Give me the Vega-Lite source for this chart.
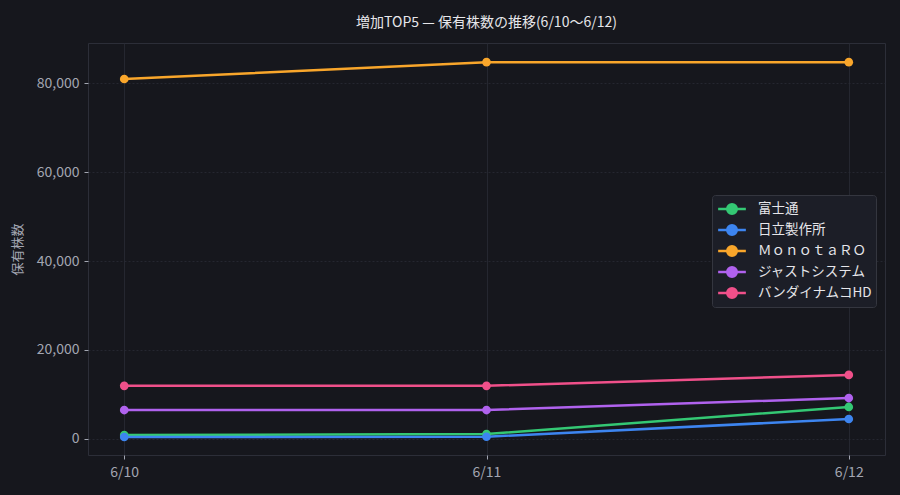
{
  "$schema": "https://vega.github.io/schema/vega-lite/v6.json",
  "autosize": {"type": "none"},
  "padding": {"left": 88, "top": 43, "right": 15, "bottom": 40},
  "width": 797,
  "height": 412,
  "background": "#16171d",
  "title": {
    "text": "増加TOP5 — 保有株数の推移(6/10〜6/12)",
    "font": "Noto Sans CJK JP",
    "fontSize": 14,
    "fontWeight": "normal",
    "color": "#e6e6ea",
    "anchor": "middle",
    "offset": 13
  },
  "config": {
    "font": "Noto Sans CJK JP",
    "view": {"stroke": "#2c2e38", "fill": "#16171d"},
    "axis": {
      "labelColor": "#a3a6b2",
      "labelFontSize": 14,
      "titleColor": "#a3a6b2",
      "titleFontSize": 13,
      "titleFontWeight": "normal",
      "domain": false,
      "tickColor": "#a3a6b2",
      "tickSize": 4,
      "labelPadding": 5,
      "gridColor": "#2a2c35",
      "gridWidth": 0.8
    }
  },
  "data": {
    "values": [
      {"date": "6/10", "name": "富士通", "shares": 900},
      {"date": "6/11", "name": "富士通", "shares": 1100},
      {"date": "6/12", "name": "富士通", "shares": 7200},
      {"date": "6/10", "name": "日立製作所", "shares": 450},
      {"date": "6/11", "name": "日立製作所", "shares": 500},
      {"date": "6/12", "name": "日立製作所", "shares": 4500},
      {"date": "6/10", "name": "ＭｏｎｏｔａＲＯ", "shares": 80900},
      {"date": "6/11", "name": "ＭｏｎｏｔａＲＯ", "shares": 84700},
      {"date": "6/12", "name": "ＭｏｎｏｔａＲＯ", "shares": 84700},
      {"date": "6/10", "name": "ジャストシステム", "shares": 6500},
      {"date": "6/11", "name": "ジャストシステム", "shares": 6500},
      {"date": "6/12", "name": "ジャストシステム", "shares": 9200},
      {"date": "6/10", "name": "バンダイナムコHD", "shares": 11950},
      {"date": "6/11", "name": "バンダイナムコHD", "shares": 11950},
      {"date": "6/12", "name": "バンダイナムコHD", "shares": 14400}
    ]
  },
  "mark": {"type": "line", "strokeWidth": 2.5, "point": {"size": 75, "filled": true, "opacity": 1}},
  "encoding": {
    "x": {
      "field": "date",
      "type": "ordinal",
      "scale": {"type": "point", "padding": 0.1},
      "axis": {"title": null, "labelAngle": 0, "grid": true, "labelPadding": 6}
    },
    "y": {
      "field": "shares",
      "type": "quantitative",
      "scale": {"domain": [-3600, 89000], "nice": false, "zero": false},
      "axis": {"title": "保有株数", "values": [0, 20000, 40000, 60000, 80000], "format": ",.0f", "grid": true, "titlePadding": 12, "gridDash": [2, 2]}
    },
    "color": {
      "field": "name",
      "type": "nominal",
      "sort": ["富士通", "日立製作所", "ＭｏｎｏｔａＲＯ", "ジャストシステム", "バンダイナムコHD"],
      "scale": {
        "domain": ["富士通", "日立製作所", "ＭｏｎｏｔａＲＯ", "ジャストシステム", "バンダイナムコHD"],
        "range": ["#34c874", "#3d85f0", "#f9a62b", "#b062ee", "#f0508a"]
      },
      "legend": {
        "title": null,
        "orient": "none",
        "legendX": 624,
        "legendY": 152,
        "fillColor": "#1c1e27",
        "strokeColor": "#34363f",
        "padding": 4,
        "cornerRadius": 3,
        "labelColor": "#e6e6ea",
        "labelFontSize": 13.5,
        "rowPadding": 1,
        "symbolType": "M -1.6 0 L 1.6 0 M -0.55 0 A 0.55 0.55 0 1 1 0.55 0 A 0.55 0.55 0 1 1 -0.55 0 Z",
        "symbolSize": 300,
        "symbolStrokeWidth": 2.5,
        "labelOffset": 16,
        "symbolOffset": 6
      }
    },
    "order": {"field": "date"}
  }
}
